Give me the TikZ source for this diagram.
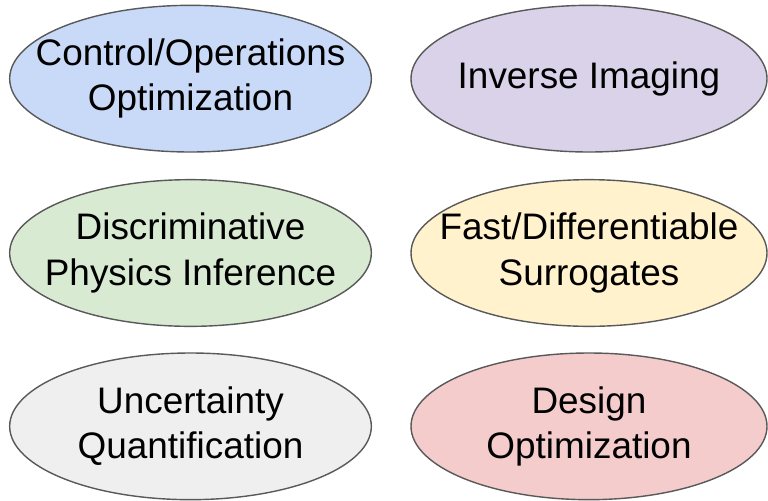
\documentclass[tikz,border=0pt]{standalone}
\usepackage{fontspec}
\setmainfont{Liberation Sans}
\usepackage{tikz}
\usetikzlibrary{shapes.geometric,positioning}
\usepackage{xcolor}
\definecolor{appblue}{HTML}{C9DAF8}
\definecolor{apppurple}{HTML}{D9D2E9}
\definecolor{appgreen}{HTML}{D9EAD3}
\definecolor{appyellow}{HTML}{FFF2CC}
\definecolor{appgrey}{HTML}{EFEFEF}
\definecolor{appred}{HTML}{F4CCCC}
\definecolor{edgegrey}{HTML}{595959}

\begin{document}
\begin{tikzpicture}[
    app/.style={ellipse, draw=edgegrey, line width=1.2pt,
        inner xsep=-1cm, inner ysep=0pt,
        minimum width=10.85cm, minimum height=4.4cm, align=center,
        font=\fontsize{31.5}{38.5}\selectfont}
]
    \useasboundingbox (0,0) rectangle (23.04,-15);

    % === Left column ===
    \node[app, fill=appblue] (control) at (5.715,-2.36) {Control/Operations\\Optimization};
    \node[app, fill=appgreen] (discrim) at (5.715,-7.59) {Discriminative\\Physics Inference};
    \node[app, fill=appgrey] (uncert) at (5.715,-12.79) {Uncertainty\\Quantification};

    % === Right column ===
    \node[app, fill=apppurple, minimum width=10.68cm] (inverse) at (17.67,-2.36) {Inverse Imaging};
    \node[app, fill=appyellow, minimum width=10.68cm] (surrogate) at (17.67,-7.59) {Fast/Differentiable\\Surrogates};
    \node[app, fill=appred, minimum width=10.68cm] (design) at (17.67,-12.79) {Design\\Optimization};
\end{tikzpicture}
\end{document}
